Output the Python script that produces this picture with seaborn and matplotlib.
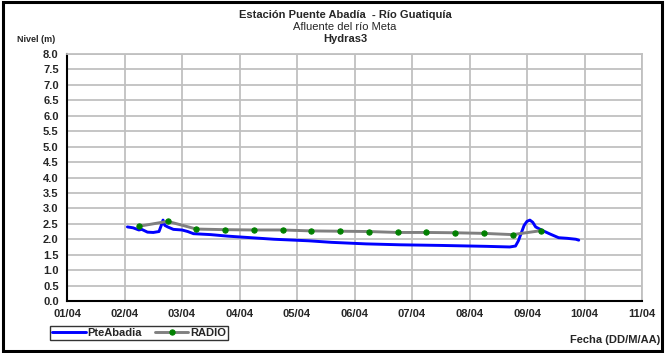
import matplotlib
matplotlib.use("Agg")
import matplotlib.pyplot as plt
import matplotlib.dates as mdates
from matplotlib.patches import Rectangle
import seaborn as sns
import pandas as pd

# PteAbadia level (m), time as fractional day of April
pte_day = [2.05, 2.15, 2.25, 2.3, 2.4, 2.5, 2.6, 2.64, 2.67, 2.7, 2.75, 2.85, 3.0, 3.1,
           3.2, 3.5, 3.8, 4.2, 4.6, 5.2, 5.6, 6.2, 6.8, 7.5, 8.3, 8.7, 8.8, 8.85,
           8.9, 8.95, 9.0, 9.05, 9.1, 9.15, 9.25, 9.4, 9.55, 9.7, 9.85, 9.9]
pte_level = [2.4, 2.37, 2.3, 2.32, 2.23, 2.22, 2.25, 2.45, 2.62, 2.45, 2.4, 2.32, 2.3, 2.25,
             2.18, 2.15, 2.1, 2.05, 2.0, 1.95, 1.9, 1.85, 1.82, 1.8, 1.77, 1.75, 1.78, 1.95,
             2.2, 2.45, 2.58, 2.62, 2.55, 2.4, 2.3, 2.17, 2.05, 2.03, 2.0, 1.97]

# RADIO readings
radio_day = [2.25, 2.75, 3.25, 3.75, 4.25, 4.75, 5.25, 5.75, 6.25, 6.75, 7.25, 7.75, 8.25, 8.75, 9.25]
radio_level = [2.42, 2.58, 2.33, 2.31, 2.3, 2.3, 2.27, 2.26, 2.25, 2.22, 2.22, 2.21, 2.19, 2.15, 2.28]

y_ticks = [i * 0.5 for i in range(17)]

base = pd.Timestamp("2024-04-01")
pte = pd.DataFrame({"fecha": [base + pd.Timedelta(days=d - 1) for d in pte_day], "nivel": pte_level})
radio = pd.DataFrame({"fecha": [base + pd.Timedelta(days=d - 1) for d in radio_day], "nivel": radio_level})

sns.set_style("white")
plt.rcParams["font.family"] = ["Liberation Sans", "DejaVu Sans"]

fig = plt.figure(figsize=(6.65, 3.53), dpi=100)
ax = fig.add_axes([67 / 665, 1 - 301 / 353, 575 / 665, 247 / 353])

sns.lineplot(data=pte, x="fecha", y="nivel", ax=ax, color="#0000ff", linewidth=2.1, label="PteAbadia")
sns.lineplot(data=radio, x="fecha", y="nivel", ax=ax, color="#808080", linewidth=2.1,
             marker="o", markersize=3.8, markerfacecolor="#008000", markeredgecolor="#008000",
             label="RADIO")

ax.set_xlim(base, base + pd.Timedelta(days=10))
ax.set_ylim(0, 8)
ax.set_yticks(y_ticks)
ax.set_yticklabels([f"{v:.1f}" for v in y_ticks])
ax.xaxis.set_major_locator(mdates.DayLocator())
ax.xaxis.set_major_formatter(mdates.DateFormatter("%d/%m"))
ax.grid(True, color="#c0c0c0", linewidth=1.3)
ax.set_axisbelow(True)
for s in ["top", "right"]:
    ax.spines[s].set_color("#c0c0c0")
    ax.spines[s].set_linewidth(1.3)
for s in ["left", "bottom"]:
    ax.spines[s].set_color("black")
    ax.spines[s].set_linewidth(1.5)
ax.tick_params(axis="both", length=4, width=1.2, color="black", labelsize=8, direction="out", pad=2)
for lab in ax.get_xticklabels() + ax.get_yticklabels():
    lab.set_fontweight("bold")
ax.set_xlabel("")
ax.set_ylabel("")

leg = ax.legend(loc="upper left", bbox_to_anchor=(50 / 665, 1 - 326 / 353), bbox_transform=fig.transFigure,
                ncol=2, frameon=True, fancybox=False, fontsize=8, handlelength=3.0, handletextpad=0.15,
                columnspacing=1.2, borderpad=0.2, borderaxespad=0)
leg.get_frame().set_edgecolor("black")
leg.get_frame().set_linewidth(1.0)
for t in leg.get_texts():
    t.set_fontweight("bold")

fig.text(345 / 665, 1 - 15 / 353, "Estación Puente Abadía  - Río Guatiquía", ha="center", va="center",
         fontsize=8, fontweight="bold")
fig.text(345 / 665, 1 - 27 / 353, "Afluente del río Meta", ha="center", va="center", fontsize=8)
fig.text(345 / 665, 1 - 39 / 353, "Hydras3", ha="center", va="center", fontsize=8, fontweight="bold")
fig.text(17 / 665, 1 - 40 / 353, "Nivel (m)", ha="left", va="center", fontsize=6.5, fontweight="bold")
fig.text(660 / 665, 1 - 340 / 353, "Fecha (DD/M/AA)", ha="right", va="center", fontsize=8, fontweight="bold")

fig.patches.append(Rectangle((0.004, 0.006), 0.992, 0.988, transform=fig.transFigure,
                             fill=False, edgecolor="black", linewidth=2.2))

fig.savefig("out.png", dpi=100)
